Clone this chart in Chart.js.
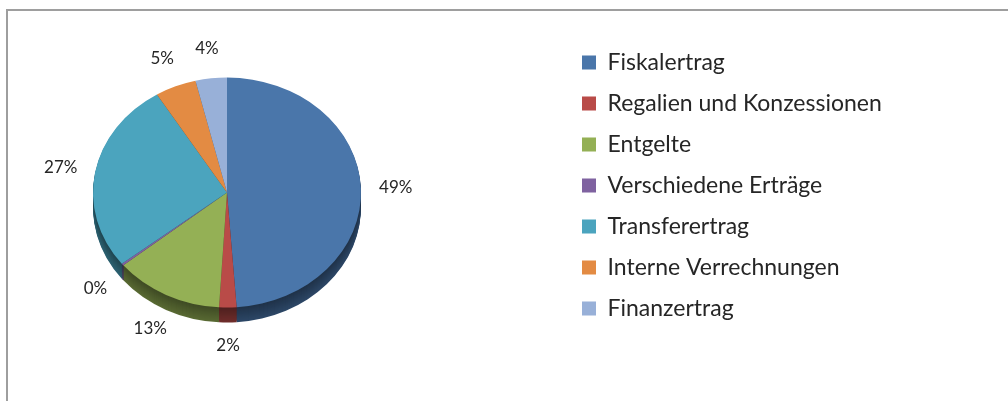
<!DOCTYPE html>
<html>
<head>
<meta charset="utf-8">
<script src="https://cdn.jsdelivr.net/npm/chart.js@4/dist/chart.umd.min.js"></script>
<style>
  html, body { margin: 0; padding: 0; background: #fff; overflow: hidden; }
  #frame {
    position: absolute; left: 6px; top: 9px; width: 1100px; height: 500px;
    border-top: 2px solid #9e9e9e; border-left: 2px solid #9e9e9e;
  }
  /* canvas starts left of the page so the pie can sit further left than the layout allows */
  #revenueChart { position: absolute; left: -110px; top: 0; }
</style>
</head>
<body>
<div id="frame"></div>
<canvas id="revenueChart" width="1118" height="401"></canvas>
<script>
const categories = [
    'Fiskalertrag',
    'Regalien und Konzessionen',
    'Entgelte',
    'Verschiedene Erträge',
    'Transferertrag',
    'Interne Verrechnungen',
    'Finanzertrag'
];
const shares = [49.1, 2.1, 13.2, 0.3, 27.0, 5.0, 3.8];
const sliceColors = ['#4a76aa', '#b94b48', '#94b055', '#7f62a0', '#4ba4be', '#e38b43', '#98b0d8'];

const FONT = 'Lato';
const OFFSET = 110;
const CANVAS_W = 1118;
const LEGEND_SIZE = 23;
const LEGEND_PAD = 18;
const BOX = 14;
const PIE_RADIUS = 134;
const TILT = 0.858;     // vertical squash of the pie
const TILT_SHIFT = 7;   // ellipse sits a bit lower than the vertex
const DEPTH = 15;

function shade(hex, f) {
    const n = parseInt(hex.slice(1), 16);
    const r = Math.round(((n >> 16) & 255) * f);
    const g = Math.round(((n >> 8) & 255) * f);
    const b = Math.round((n & 255) * f);
    return `rgb(${r},${g},${b})`;
}

// legend width, so its boxes line up near x=582 on the page
const mctx = document.createElement('canvas').getContext('2d');
mctx.font = `${LEGEND_SIZE}px ${FONT}`;
const longest = Math.max(...categories.map(c => mctx.measureText(c).width));
const legendWidth = LEGEND_PAD + BOX + LEGEND_SIZE / 2 + longest;
const legendLeft = 592 + OFFSET - LEGEND_PAD;
const padRight = CANVAS_W - legendLeft - legendWidth;
const padLeft = 2 * (232 + OFFSET) - legendLeft;

const tiltPie = {
    id: 'tiltPie',
    beforeDatasetsDraw(chart) {
        const ctx = chart.ctx;
        const meta = chart.getDatasetMeta(0);
        const cx = meta.data[0].x, cy = meta.data[0].y;
        ctx.save();
        ctx.translate(cx, cy + TILT_SHIFT);
        ctx.scale(1, TILT);
        ctx.translate(-cx, -cy);
        // side wall: darker copies pushed down
        for (let d = DEPTH; d >= 1; d--) {
            ctx.save();
            ctx.translate(0, d / TILT);
            meta.data.forEach((arc, i) => {
                const side = Object.create(arc);
                const c = shade(sliceColors[i], 0.42 + 0.012 * d);
                side.options = Object.assign({}, arc.options, { backgroundColor: c, borderColor: c });
                arc.draw.call(side, ctx);
            });
            ctx.restore();
        }
    },
    afterDatasetsDraw(chart) {
        const ctx = chart.ctx;
        ctx.restore();
        const meta = chart.getDatasetMeta(0);
        const total = shares.reduce((a, b) => a + b, 0);
        ctx.save();
        ctx.font = `17px ${FONT}`;
        ctx.fillStyle = '#262626';
        ctx.textAlign = 'center';
        ctx.textBaseline = 'middle';
        meta.data.forEach((arc, i) => {
            const mid = (arc.startAngle + arc.endAngle) / 2;
            const rx = arc.outerRadius * 1.26;
            const ry = arc.outerRadius * TILT * 1.26;
            const x = arc.x + rx * Math.cos(mid);
            const y = arc.y + TILT_SHIFT + ry * Math.sin(mid) + 8 * Math.max(0, Math.sin(mid));
            ctx.fillText(Math.round(shares[i] / total * 100) + '%', x, y);
        });
        ctx.restore();
    }
};

const ctx = document.getElementById('revenueChart').getContext('2d');

new Chart(ctx, {
    type: 'pie',
    data: {
        labels: categories,
        datasets: [{
            data: shares,
            backgroundColor: sliceColors,
            borderWidth: 0,
            radius: PIE_RADIUS,
            clip: false
        }]
    },
    options: {
        responsive: false,
        animation: false,
        layout: {
            padding: { left: padLeft, right: padRight, top: 21, bottom: 51 }
        },
        plugins: {
            legend: {
                position: 'right',
                labels: {
                    boxWidth: BOX,
                    boxHeight: BOX,
                    padding: LEGEND_PAD,
                    color: '#262626',
                    font: { family: FONT, size: LEGEND_SIZE }
                }
            },
            tooltip: { enabled: false }
        }
    },
    plugins: [tiltPie]
});
</script>
</body>
</html>
